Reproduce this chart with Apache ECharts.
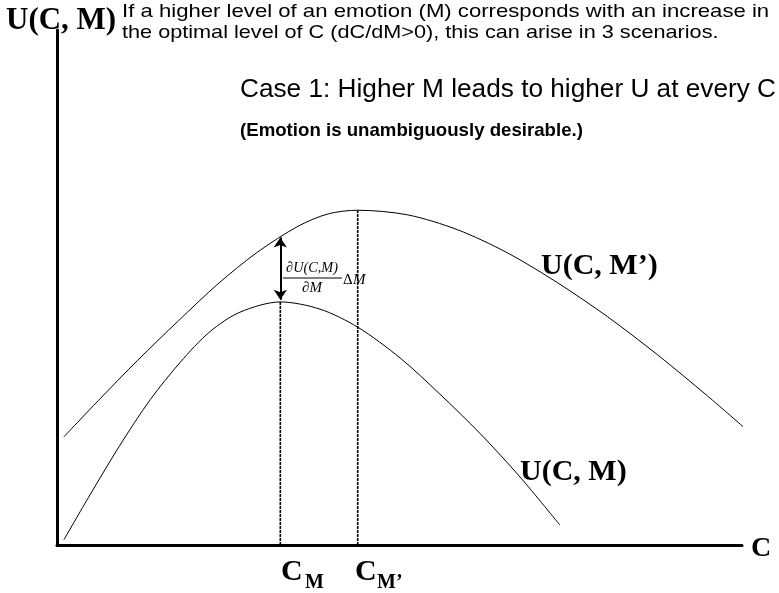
<!DOCTYPE html>
<html><head><meta charset="utf-8">
<script src="https://cdn.jsdelivr.net/npm/echarts@6/dist/echarts.min.js"></script>
<style>html,body{margin:0;padding:0;background:#fff}#c{width:779px;height:593px}</style>
</head><body><div id="c"></div><script>
// Curve U(C, M') (upper)
const C_upper = [0.10, 0.60, 1.18, 1.77, 2.35, 2.93, 3.52, 3.96, 4.39, 5.12, 5.85, 6.58, 7.31, 8.04, 8.77, 9.50, 10.04];
const U_upper = [2.10, 2.80, 3.59, 4.35, 5.07, 5.69, 6.19, 6.43, 6.50, 6.41, 6.12, 5.67, 5.09, 4.43, 3.69, 2.89, 2.27];
// Curve U(C, M) (lower)
const C_lower = [0.10, 0.48, 0.92, 1.36, 1.80, 2.23, 2.67, 3.26, 3.84, 4.39, 5.01, 5.59, 6.18, 6.76, 7.34];
const U_lower = [0.10, 0.97, 1.94, 2.82, 3.55, 4.14, 4.52, 4.72, 4.58, 4.23, 3.63, 2.93, 2.16, 1.32, 0.39];
// Optimal C levels
const C_M = 3.26, C_Mp = 4.39;
const arrowU = [4.76, 5.97];
const axisRange = [0, 10];

const zip = (xs, ys) => xs.map((x, i) => [x, ys[i]]);
const peak = ys => Math.max.apply(null, ys);

const chart = echarts.init(document.getElementById('c'), null, {renderer: 'canvas'});
const sf = s => 'bold ' + s + 'px "Liberation Serif", "Times New Roman", serif';
const sans = (s, b) => (b ? 'bold ' : '') + s + 'px "Liberation Sans", Arial, sans-serif';
const it = s => 'italic ' + s + 'px "Liberation Serif", "Times New Roman", serif';
function txt(text, x, y, font, align, sx) {
  return {type: 'text', x: x, y: y, scaleX: sx || 1, silent: true, z: 10,
    style: {text: text, font: font, fill: '#000', align: align || 'left', verticalAlign: 'middle'}};
}
const axisCommon = {
  type: 'value', min: axisRange[0], max: axisRange[1],
  axisLine: {show: true, onZero: false, lineStyle: {color: '#000', width: 3}},
  axisTick: {show: false}, axisLabel: {show: false}, splitLine: {show: false}
};
chart.setOption({
  animation: false,
  backgroundColor: '#fff',
  grid: {left: 57, right: 37, top: 30, bottom: 48},
  xAxis: axisCommon,
  yAxis: axisCommon,
  series: [
    {type: 'line', data: zip(C_upper, U_upper), smooth: 0.3, symbol: 'none', clip: false,
     lineStyle: {color: '#000', width: 1}},
    {type: 'line', data: zip(C_lower, U_lower), smooth: 0.3, symbol: 'none', clip: false,
     lineStyle: {color: '#000', width: 1}},
    {type: 'line', data: [[C_M, 0], [C_M, peak(U_lower)]], symbol: 'none',
     lineStyle: {color: '#000', width: 1.6, type: [3, 1]}},
    {type: 'line', data: [[C_Mp, 0], [C_Mp, peak(U_upper)]], symbol: 'none',
     lineStyle: {color: '#000', width: 1.6, type: [3, 1]}},
    {type: 'lines', coordinateSystem: 'cartesian2d', symbol: ['arrow', 'arrow'], symbolSize: 10,
     lineStyle: {color: '#000', width: 2, opacity: 1},
     data: [{coords: [[C_M, arrowU[0]], [C_M, arrowU[1]]]}]}
  ],
  graphic: [
    txt('U(C, M)', 6, 21, sf(31)),
    txt('If a higher level of an emotion (M) corresponds with an increase in', 122, 12, sans(19), 'left', 1.165),
    txt('the optimal level of C (dC/dM>0), this can arise in 3 scenarios.', 122, 33, sans(19), 'left', 1.14),
    txt('Case 1: Higher M leads to higher U at every C', 240, 90, sans(26), 'left', 1.008),
    txt('(Emotion is unambiguously desirable.)', 240, 131, sans(18.5, true), 'left', 1.008),
    txt('U(C, M\u2019)', 541, 266, sf(30)),
    txt('U(C, M)', 520, 472, sf(30)),
    txt('C', 751, 549, sf(28)),
    txt('C', 281, 572, sf(30)),
    txt('M', 305, 583, sf(20)),
    txt('C', 355, 572, sf(30)),
    txt('M\u2019', 377, 583, sf(20)),
    txt('\u2202U(C,M)', 312, 268, it(15), 'center', 0.95),
    {type: 'line', silent: true, z: 10, shape: {x1: 283, y1: 278, x2: 342, y2: 278},
     style: {stroke: '#000', lineWidth: 1}},
    txt('\u2202M', 312, 288, it(15), 'center'),
    txt('\u0394', 343, 280, '15px "Liberation Serif", serif'),
    txt('M', 353, 280, it(15))
  ]
});
</script></body></html>
